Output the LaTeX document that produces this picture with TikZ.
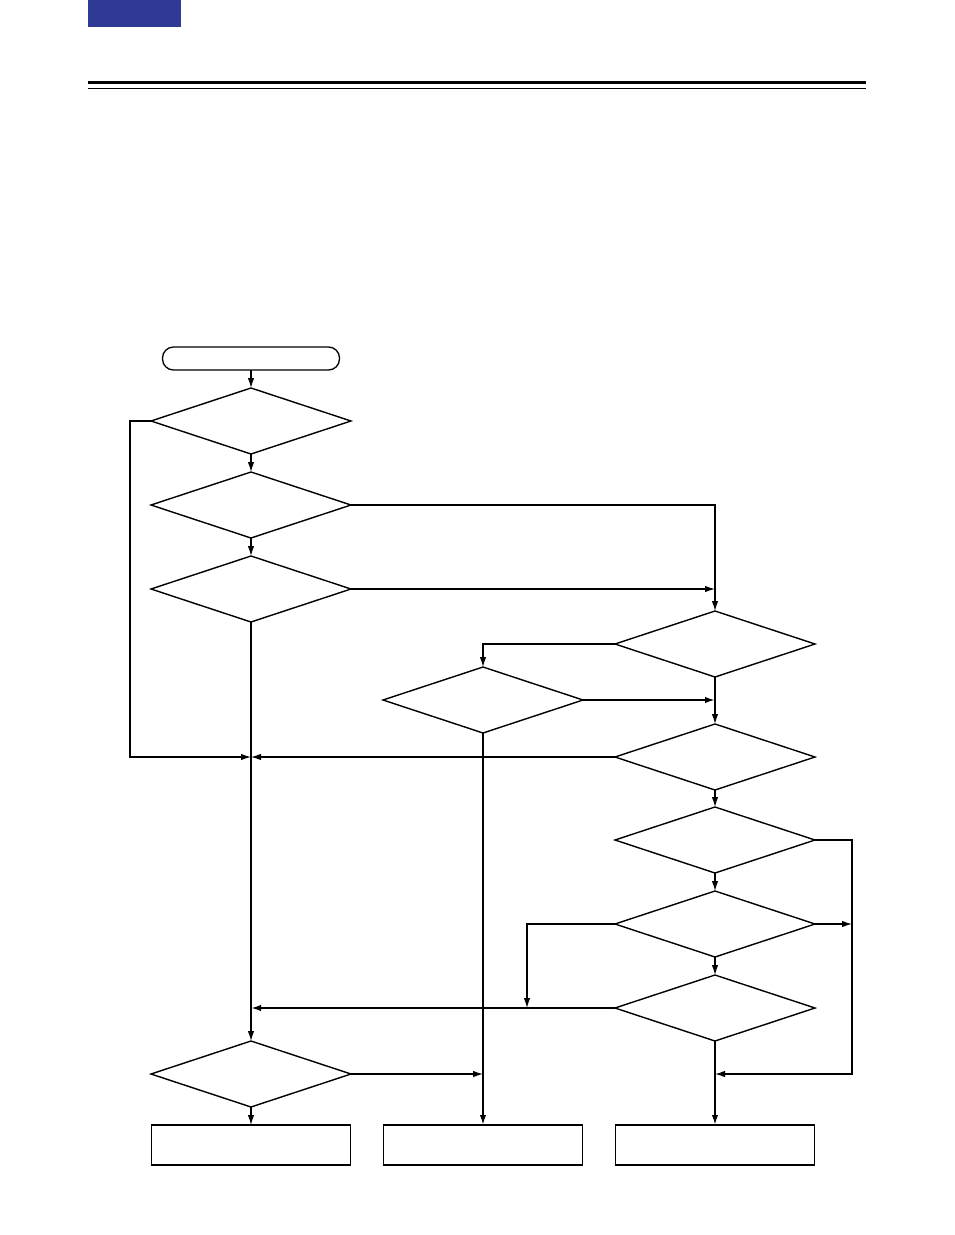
\documentclass[tikz,border=0pt]{standalone}
\usepackage{tikz}
\usetikzlibrary{shapes.geometric,arrows.meta}
\definecolor{tabblue}{RGB}{46,58,150}
\tikzstyle{decision}=[diamond,draw,line width=1.4pt,minimum width=200pt,minimum height=66pt,aspect=3,inner sep=0pt,outer sep=0pt]
\tikzstyle{terminal}=[rectangle,rounded corners=11pt,draw,line width=1.3pt,minimum width=177pt,minimum height=23pt,inner sep=0pt,outer sep=0pt]
\tikzstyle{process}=[rectangle,draw,line width=1.6pt,minimum width=199pt,minimum height=40pt,inner sep=0pt,outer sep=0pt]

\begin{document}
\begin{tikzpicture}[x=1pt,y=-1pt,line width=1.2pt,>={Latex[length=10pt,width=6.5pt]}]
\useasboundingbox (0,0) rectangle (954,1235);
% header
\fill[tabblue] (88,0) rectangle (181,27);
\fill (88,81) rectangle (866,84);
\fill (88,88) rectangle (866,89);
% nodes
\node[terminal] at (251, 358.5) (s) {};
\node[decision] at (251, 421) (d1) {};
\node[decision] at (251, 505) (d2) {};
\node[decision] at (251, 589) (d3) {};
\node[decision] at (715, 644) (d4) {};
\node[decision] at (483, 700) (d5) {};
\node[decision] at (715, 757) (d6) {};
\node[decision] at (715, 840) (d7) {};
\node[decision] at (715, 924) (d8) {};
\node[decision] at (715, 1008) (d9) {};
\node[decision] at (251, 1074) (d10) {};
\node[process] at (251, 1145) (p1) {};
\node[process] at (483, 1145) (p2) {};
\node[process] at (715, 1145) (p3) {};
\coordinate (m1) at (251, 757);
\coordinate (e7) at (852, 1074);
\coordinate (k8) at (527, 1008);
% connectors
\draw[->] (s) -- (d1);
\draw[->] (d1) -- (d2);
\draw[->] (d2) -- (d3);
\draw[->] (d1.west) -- ++(-21,0) |- (m1);
\draw[->] (d2.east) -| (d4.north);
\draw[->] (d3.east) -- (d3.east -| d4.north);
\draw[->] (d4.west) -| (d5.north);
\draw[->, line width=1.9pt] (d5.east) -- (d5.east -| d4.south);
\draw[->] (d4.south) -- (d6.north);
\draw[->] (d6.west) -- (m1);
\draw[->] (d3.south) -- (d10.north);
\draw[->] (d6.south) -- (d7.north);
\draw[->] (d7.east) -| (e7) -- (e7 -| d9.south);
\draw[->] (d7.south) -- (d8.north);
\draw[->] (d8.east) -- (d8.east -| e7);
\draw[->] (d8.west) -| (k8);
\draw[->] (d8.south) -- (d9.north);
\draw[->, line width=1.9pt] (d9.west) -- (d9.west -| d10.north);
\draw[->, line width=1.9pt] (d9.south) -- (p3.north);
\draw[->] (d10.east) -- (d10.east -| d5.south);
\draw[->] (d10.south) -- (p1.north);
\draw[->, line width=1.9pt] (d5.south) -- (p2.north);
\end{tikzpicture}
\end{document}
